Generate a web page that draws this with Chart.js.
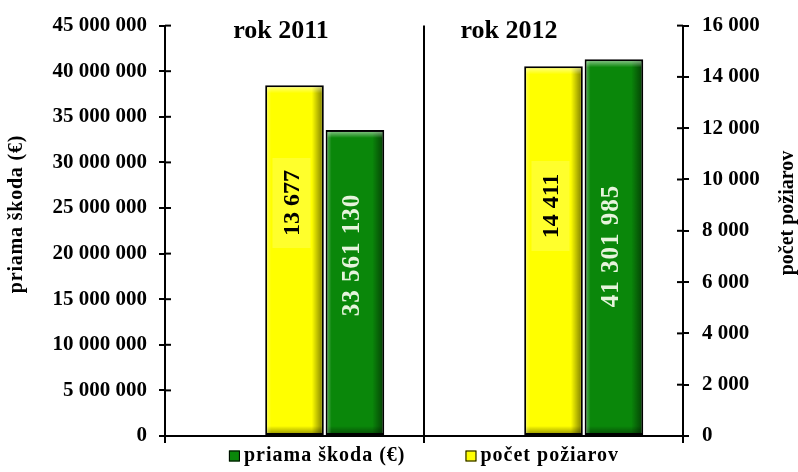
<!DOCTYPE html>
<html lang="sk">
<head>
<meta charset="utf-8">
<title>Požiare a priama škoda 2011 – 2012</title>
<script src="https://cdn.jsdelivr.net/npm/chart.js@4.4.1/dist/chart.umd.min.js"></script>
<style>
    html, body { margin: 0; padding: 0; background: #fff; }
    #wrap { width: 798px; height: 472px; position: relative; }
</style>
</head>
<body>
<div id="wrap"><canvas id="fireChart"></canvas></div>
<script>
const years = ["rok 2011", "rok 2012"];
const fireCounts = [13677, 14411];            // počet požiarov, right axis
const directDamage = [33561130, 41301985];    // priama škoda (€), left axis
const spacer = [null, null];                  // empty slot left of the bars
const damageTicks = [0, 5000000, 10000000, 15000000, 20000000, 25000000, 30000000, 35000000, 40000000, 45000000];
const countTicks = [0, 2000, 4000, 6000, 8000, 10000, 12000, 14000, 16000];

const serif = '"Liberation Serif", "Times New Roman", serif';
const yellow = "#ffff00";
const green = "#0a870a";

const spaced = (v) => v.toString().replace(/\B(?=(\d{3})+(?!\d))/g, " ");

function line(ctx, x1, y1, x2, y2) {
    ctx.beginPath();
    ctx.moveTo(x1, y1);
    ctx.lineTo(x2, y2);
    ctx.stroke();
}

function vText(ctx, text, x, y) {
    ctx.save();
    ctx.translate(x, y);
    ctx.rotate(-Math.PI / 2);
    ctx.fillText(text, 0, 0);
    ctx.restore();
}

// bevel look of the old excel bars
function bevel(ctx, p) {
    const l = p.x - p.width / 2 + 2, r = p.x + p.width / 2 - 2;
    const t = p.y + 2, b = p.base - 2;
    let g = ctx.createLinearGradient(r - 10, 0, r, 0);
    g.addColorStop(0, "rgba(0,0,0,0)");
    g.addColorStop(1, "rgba(0,0,0,0.45)");
    ctx.fillStyle = g;
    ctx.fillRect(r - 10, t, 10, b - t);
    g = ctx.createLinearGradient(0, b - 7, 0, b);
    g.addColorStop(0, "rgba(0,0,0,0)");
    g.addColorStop(1, "rgba(0,0,0,0.35)");
    ctx.fillStyle = g;
    ctx.fillRect(l, b - 7, r - l, 7);
    g = ctx.createLinearGradient(0, t, 0, t + 6);
    g.addColorStop(0, "rgba(255,255,255,0.45)");
    g.addColorStop(1, "rgba(255,255,255,0)");
    ctx.fillStyle = g;
    ctx.fillRect(l, t, r - l, 6);
    g = ctx.createLinearGradient(l, 0, l + 4, 0);
    g.addColorStop(0, "rgba(255,255,255,0.25)");
    g.addColorStop(1, "rgba(255,255,255,0)");
    ctx.fillStyle = g;
    ctx.fillRect(l, t, 4, b - t);
}

const decor = {
    id: "decor",
    afterDraw(chart) {
        const ctx = chart.ctx;
        const area = chart.chartArea;
        const xs = chart.scales.x, yL = chart.scales.y, yR = chart.scales.y1;

        // bars: shading and value labels
        const labelY = { 1: [203, 206], 2: [255, 246] };
        chart.data.datasets.forEach((ds, di) => {
            if (!ds.bevel) return;
            chart.getDatasetMeta(di).data.forEach((bar, i) => {
                const p = bar.getProps(["x", "y", "base", "width"], true);
                bevel(ctx, p);
                ctx.save();
                ctx.textAlign = "center";
                ctx.textBaseline = "middle";
                if (di === 1) {
                    ctx.fillStyle = "rgba(255,255,200,0.22)";
                    ctx.fillRect(p.x - 22, labelY[di][i] - 45, 38, 90);
                    ctx.fillStyle = "#000";
                    ctx.font = "bold 24px " + serif;
                } else {
                    ctx.fillStyle = "#e6f4dc";
                    ctx.font = "bold 25px " + serif;
                    ctx.letterSpacing = "1px";
                }
                vText(ctx, spaced(ds.data[i]), p.x - 2, labelY[di][i]);
                ctx.restore();
            });
        });

        // tick marks crossing into the plot
        ctx.save();
        ctx.strokeStyle = "#000";
        ctx.lineWidth = 2;
        yL.ticks.forEach((t) => {
            const py = yL.getPixelForValue(t.value);
            line(ctx, area.left, py, area.left + 6, py);
        });
        yR.ticks.forEach((t) => {
            const py = yR.getPixelForValue(t.value);
            line(ctx, area.right - 6, py, area.right, py);
        });
        // divider between the years, axis overshoot on the right
        const mid = (xs.getPixelForValue(0) + xs.getPixelForValue(1)) / 2;
        line(ctx, mid, area.top, mid, area.bottom);
        line(ctx, area.right, area.bottom, area.right + 5, area.bottom);
        ctx.restore();

        // year titles
        ctx.save();
        ctx.fillStyle = "#000";
        ctx.textAlign = "center";
        ctx.textBaseline = "middle";
        ctx.font = "bold 26px " + serif;
        const titleX = [281, 509];
        years.forEach((y, i) => ctx.fillText(y, titleX[i], 31));

        // axis titles
        ctx.font = "bold 20px " + serif;
        ctx.letterSpacing = "0.8px";
        vText(ctx, "priama škoda (€)", 17, 214);
        ctx.letterSpacing = "0px";
        vText(ctx, "počet požiarov", 788, 213);
        ctx.restore();

        // legend
        ctx.save();
        ctx.font = "bold 20px " + serif;
        ctx.letterSpacing = "1px";
        ctx.textBaseline = "middle";
        const items = [chart.data.datasets[2], chart.data.datasets[1]];
        const box = 11, gapText = 4, gapItem = 60;
        const widths = items.map((d) => box + gapText + ctx.measureText(d.label).width);
        let x = (area.left + area.right) / 2 - (widths[0] + widths[1] + gapItem) / 2;
        const ly = 456;
        items.forEach((d, i) => {
            ctx.fillStyle = d.backgroundColor;
            ctx.fillRect(x, ly - box / 2, box, box);
            ctx.strokeStyle = "#000";
            ctx.lineWidth = 1;
            ctx.strokeRect(x + 0.5, ly - box / 2 + 0.5, box - 1, box - 1);
            ctx.fillStyle = "#000";
            ctx.fillText(d.label, x + box + gapText, ly);
            x += widths[i] + gapItem;
        });
        ctx.restore();
    }
};

const tickFont = { family: serif, size: 21, weight: "bold" };

new Chart(document.getElementById("fireChart"), {
    type: "bar",
    data: {
        labels: years,
        datasets: [
            { label: "", data: spacer, yAxisID: "y" },
            {
                label: "počet požiarov",
                data: fireCounts,
                yAxisID: "y1",
                backgroundColor: yellow,
                borderColor: "#000",
                borderWidth: 2,
                borderSkipped: false,
                bevel: true
            },
            {
                label: "priama škoda (€)",
                data: directDamage,
                yAxisID: "y",
                backgroundColor: green,
                borderColor: "#000",
                borderWidth: 2,
                borderSkipped: false,
                bevel: true
            }
        ]
    },
    options: {
        responsive: true,
        maintainAspectRatio: false,
        animation: false,
        layout: { padding: { top: 25, left: 0, right: 0, bottom: 0 } },
        datasets: { bar: { categoryPercentage: 0.7, barPercentage: 0.97 } },
        plugins: {
            legend: { display: false },
            tooltip: { enabled: false }
        },
        scales: {
            x: {
                ticks: { display: false },
                grid: { drawOnChartArea: false, tickLength: 7, color: "#000", lineWidth: 2, offset: true },
                border: { color: "#000", width: 2 },
                afterFit: (s) => { s.height = 36; }
            },
            y: {
                position: "left",
                min: damageTicks[0],
                max: damageTicks[damageTicks.length - 1],
                afterBuildTicks: (s) => { s.ticks = damageTicks.map((v) => ({ value: v })); },
                ticks: { callback: (v) => spaced(v), font: tickFont, color: "#000", padding: 12, autoSkip: false },
                grid: { drawOnChartArea: false, tickLength: 6, color: "#000", lineWidth: 2 },
                border: { color: "#000", width: 2 },
                afterFit: (s) => { s.width = 165; }
            },
            y1: {
                position: "right",
                min: countTicks[0],
                max: countTicks[countTicks.length - 1],
                afterBuildTicks: (s) => { s.ticks = countTicks.map((v) => ({ value: v })); },
                ticks: { callback: (v) => spaced(v), font: tickFont, color: "#000", padding: 13, autoSkip: false },
                grid: { drawOnChartArea: false, tickLength: 6, color: "#000", lineWidth: 2 },
                border: { color: "#000", width: 2 },
                afterFit: (s) => { s.width = 115; }
            }
        }
    },
    plugins: [decor]
});
</script>
</body>
</html>
